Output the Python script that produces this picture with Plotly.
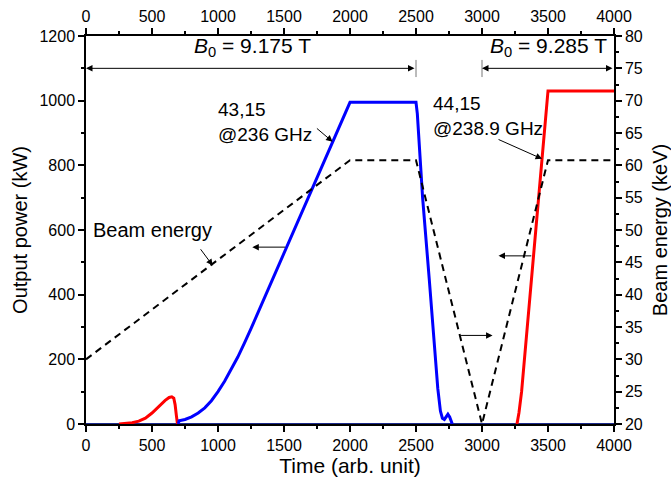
import plotly.graph_objects as go

# ---- data ----
beam_t = [0, 2000, 2500, 3000, 3500, 4000]
beam_kev = [30, 60.8, 60.8, 20, 60.8, 60.8]

blue_t = [700, 705, 750, 800, 850, 900, 950, 1000, 1050, 1100, 1150, 1200, 1250, 2000, 2500,
          2510, 2550, 2600, 2640, 2665, 2685, 2700, 2715, 2730, 2742, 2755, 2765, 2775]
blue_kw = [0, 10, 14, 22, 34, 50, 72, 100, 132, 168, 207, 250, 295, 995, 995,
           960, 700, 450, 240, 110, 40, 18, 14, 24, 30, 22, 8, 0]

red1_t = [250, 300, 350, 400, 450, 500, 550, 600, 630, 650, 665, 675, 685, 693]
red1_kw = [0, 2, 4, 9, 18, 34, 54, 73, 82, 84, 80, 60, 25, 0]

red2_t = [3265, 3280, 3300, 3350, 3400, 3450, 3500, 4000]
red2_kw = [0, 35, 100, 330, 560, 795, 1030, 1030]

base_t = [0, 4000]
base_kw = [0, 0]

FONT = "Liberation Sans, Arial, sans-serif"

fig = go.Figure()
fig.add_trace(go.Scatter(x=base_t, y=base_kw, mode="lines",
                         line=dict(color="#1c2a8c", width=2), showlegend=False))
fig.add_trace(go.Scatter(x=red1_t, y=red1_kw, mode="lines",
                         line=dict(color="#ff0000", width=3), showlegend=False))
fig.add_trace(go.Scatter(x=blue_t, y=blue_kw, mode="lines",
                         line=dict(color="#0000ff", width=3), showlegend=False))
fig.add_trace(go.Scatter(x=red2_t, y=red2_kw, mode="lines",
                         line=dict(color="#ff0000", width=3), showlegend=False))
fig.add_trace(go.Scatter(x=beam_t, y=beam_kev, mode="lines", xaxis="x2", yaxis="y2",
                         line=dict(color="black", width=2, dash="7px,5px"), showlegend=False))

ax_common = dict(showline=True, linecolor="black", linewidth=1.5, ticks="outside",
                 ticklen=6, tickwidth=1.5, tickcolor="black", showgrid=False, zeroline=False,
                 automargin=False,
                 tickfont=dict(family=FONT, size=16, color="black"))

fig.update_layout(
    width=671, height=477,
    margin=dict(l=86, r=57, t=36, b=53),
    plot_bgcolor="white", paper_bgcolor="white",
    font=dict(family=FONT, color="black"),
    xaxis=dict(range=[0, 4000], tickmode="linear", tick0=0, dtick=500,
               minor=dict(dtick=250, ticklen=3, ticks="outside", tickcolor="black"),
               title=dict(text="Time (arb. unit)", font=dict(family=FONT, size=21), standoff=0),
               **ax_common),
    xaxis2=dict(range=[0, 4000], overlaying="x", side="top", tickmode="linear", tick0=0, dtick=500,
                minor=dict(dtick=250, ticklen=3, ticks="outside", tickcolor="black"),
                anchor="y2", **ax_common),
    yaxis=dict(range=[0, 1200], tickmode="linear", tick0=0, dtick=200,
               minor=dict(dtick=100, ticklen=3, ticks="outside", tickcolor="black"),
               title=dict(text="Output power (kW)", font=dict(family=FONT, size=20), standoff=6),
               **ax_common),
    yaxis2=dict(range=[20, 80], overlaying="y", side="right", tickmode="linear", tick0=20, dtick=5,
                minor=dict(dtick=2.5, ticklen=3, ticks="outside", tickcolor="black"),
                title=dict(text="Beam energy (keV)", font=dict(family=FONT, size=20), standoff=11),
                **ax_common),
)

ann = []
def arrow(x, y, ax, ay, side="end"):
    ann.append(dict(x=x, y=y, ax=ax, ay=ay, xref="x", yref="y", axref="x", ayref="y",
                    text="", showarrow=True, arrowhead=2, arrowsize=1.3, arrowwidth=1,
                    arrowcolor="black", arrowside=side, standoff=0, startstandoff=0))

arrow(0, 1100, 2500, 1100, "end+start")
arrow(3000, 1100, 4000, 1100, "end+start")
arrow(1868, 873, 1738, 918)          # 43,15 pointer to blue line
arrow(3455, 820, 3114, 882)          # 44,15 pointer
arrow(960, 490, 860, 545)            # Beam energy pointer
arrow(1260, 547, 1520, 547)          # left arrow from blue line
arrow(3080, 274, 2830, 274)          # right arrow toward dashed line
arrow(3125, 520, 3385, 520)          # left arrow from red line

def text(x, y, s, size=19, xanchor="left"):
    ann.append(dict(x=x, y=y, xref="x", yref="y", text=s, showarrow=False,
                    xanchor=xanchor, yanchor="middle", align="left",
                    font=dict(family=FONT, size=size, color="black")))

text(1260, 1165, "<i>B</i><sub>0</sub> = 9.175 T", size=21, xanchor="center")
text(3500, 1165, "<i>B</i><sub>0</sub> = 9.285 T", size=21, xanchor="center")
text(985, 973, "43,15")
text(985, 896, "@236 GHz")
text(2615, 990, "44,15")
text(2615, 914, "@238.9 GHz")
text(38, 599, "Beam energy", size=20)

fig.update_layout(annotations=ann)

fig.add_shape(type="line", x0=2500, x1=2500, y0=1073, y1=1126, xref="x", yref="y",
              line=dict(color="#777777", width=1))
fig.add_shape(type="line", x0=3000, x1=3000, y0=1073, y1=1126, xref="x", yref="y",
              line=dict(color="#777777", width=1))

fig.write_html("out.html")
